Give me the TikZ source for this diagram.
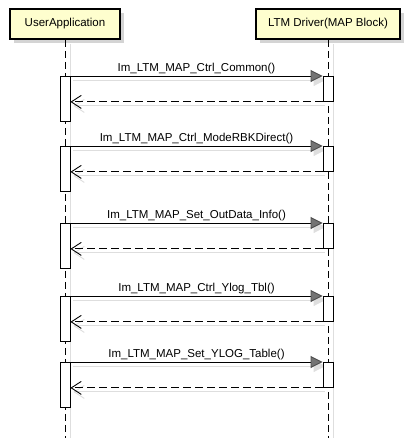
\documentclass[tikz,border=0pt]{standalone}
\usepackage{fontspec}
\setmainfont{Liberation Sans}
\usetikzlibrary{arrows.meta,positioning,shadows,backgrounds}
\definecolor{partfill}{RGB}{254,254,206}
\definecolor{shadegray}{RGB}{212,212,212}
\definecolor{lineshade}{RGB}{222,222,222}
\tikzset{
  partbox/.style={draw, line width=1.6pt, fill=partfill, minimum height=30pt,
    inner sep=0pt, font=\fontsize{11.5}{13}\selectfont,
    drop shadow={shadow xshift=4pt, shadow yshift=-4pt, fill=shadegray, opacity=1}},
  lifeline/.style={line width=0.9pt, dash pattern=on 7pt off 4pt},
  lifeshade/.style={line width=0.9pt, lineshade},
  actbar/.style={draw, line width=0.9pt, fill=white, minimum width=10pt, inner sep=0pt},
  msg/.style={line width=0.9pt, -{Triangle[length=12pt,width=12pt,fill=black!55,color=black!70]}},
  msgshade/.style={line width=0.9pt, lineshade, -{Triangle[length=12pt,width=12pt,fill=lineshade]}},
  ret/.style={line width=0.9pt, dash pattern=on 8pt off 4pt, -{Straight Barb[length=10pt,width=13pt]}},
  retshade/.style={line width=0.9pt, lineshade, -{Straight Barb[length=10pt,width=13pt]}},
  msglabel/.style={above, inner sep=2pt, font=\fontsize{11.5}{13}\selectfont}
}
\begin{document}
\begin{tikzpicture}[x=1pt,y=-1pt]
  \useasboundingbox (0,0) rectangle (410,440);
  \node[partbox, minimum width=110pt] (user) at (65,24) {UserApplication};
  \node[partbox, minimum width=144pt] (ltm) at (328,24) {LTM Driver(MAP Block)};
  \coordinate (userend) at (65,438);
  \coordinate (ltmend) at (328,438);
  \draw[lifeline] (user.south) -- (userend);
  \draw[lifeline] (ltm.south) -- (ltmend);
  \begin{scope}[on background layer]
    \draw[lifeshade] ([shift={(5pt,-4pt)}]user.south) -- ([xshift=5pt]userend);
    \draw[lifeshade] ([shift={(5pt,-4pt)}]ltm.south) -- ([xshift=5pt]ltmend);
  \end{scope}
  \foreach \y/\txt [count=\i] in {76/Ctrl\_Common, 146/Ctrl\_ModeRBKDirect,
      223/Set\_OutData\_Info, 296/Ctrl\_Ylog\_Tbl, 362/Set\_YLOG\_Table}{
    \node[actbar, minimum height=45pt, below=0pt] (ua\i) at (65,\y) {};
    \node[actbar, minimum height=25pt, below=0pt] (la\i) at (328,\y) {};
    \begin{scope}[on background layer]
      \draw[msgshade] ([shift={(3pt,-4pt)}]ua\i.north east) -- ([shift={(3pt,-4pt)}]la\i.north west);
      \draw[retshade] ([shift={(2pt,-4pt)}]la\i.south west) -- ([shift={(3pt,-4pt)}]la\i.south west -| ua\i.east);
    \end{scope}
    \draw[msg] (ua\i.north east) -- node[msglabel] (m\i) {Im\_LTM\_MAP\_\txt()} (la\i.north west);
    \draw[ret] (la\i.south west) -- (la\i.south west -| ua\i.east);
  }
\end{tikzpicture}
\end{document}
